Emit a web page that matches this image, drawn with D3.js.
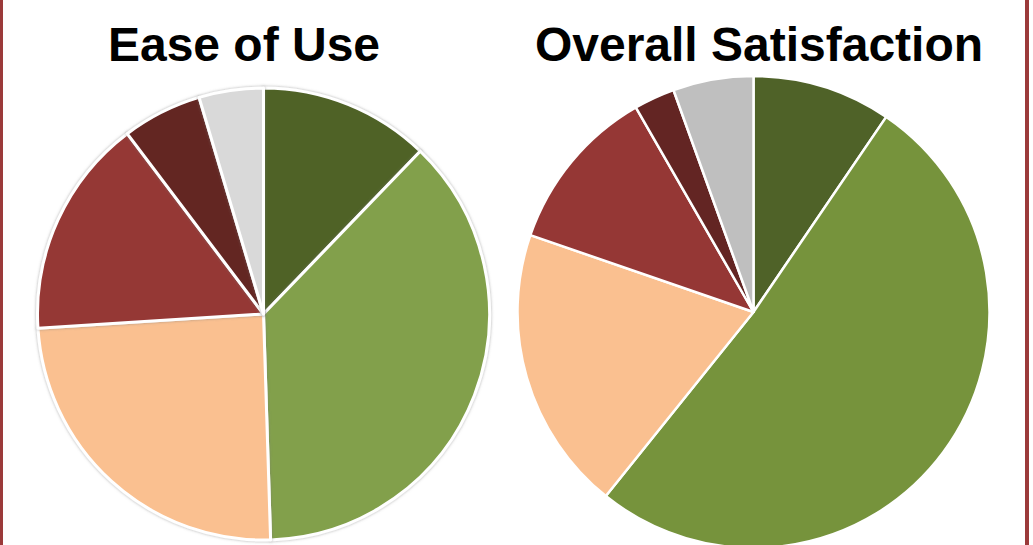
<!DOCTYPE html>
<html>
<head>
<meta charset="utf-8">
<script src="https://cdn.jsdelivr.net/npm/d3@7/dist/d3.min.js"></script>
<style>
  html,body{margin:0;padding:0;background:#fff;overflow:hidden}
  svg{display:block}
  .title{font-family:"Liberation Sans",Arial,sans-serif;font-weight:bold;font-size:48px;fill:#000}
</style>
</head>
<body>
<svg class="pies" width="1033" height="545"></svg>
<script>
// slice order goes clockwise from 12 o'clock
const categories = ['Very satisfied','Satisfied','Neutral','Dissatisfied','Very dissatisfied','No answer']
const easeOfUse = [12.2, 37.3, 24.5, 15.7, 5.7, 4.6]
const overallSatisfaction = [9.5, 51.2, 19.5, 11.4, 2.8, 5.5]
const titles = ['Ease of Use','Overall Satisfaction']

const easeColors = ['#4f6228','#82a04b','#fac090','#953735','#632523','#d9d9d9']
const overallColors = ['#4f6228','#76933c','#fac090','#953735','#632523','#bfbfbf']

const svg = d3.select('svg.pies')

// red side rules
svg.append('rect').attr('x',0).attr('y',0).attr('width',3).attr('height',545).attr('fill','#9b3a3a')
svg.append('rect').attr('x',1025).attr('y',0).attr('width',4).attr('height',545).attr('fill','#9b3a3a')

const defs = svg.append('defs')
const shadow = defs.append('filter').attr('id','soft').attr('x','-10%').attr('y','-10%').attr('width','120%').attr('height','120%')
shadow.append('feDropShadow').attr('dx',0).attr('dy',0).attr('stdDeviation',1.4)
      .attr('flood-color','#777').attr('flood-opacity',0.6)

const pie = d3.pie().sort(null).value(d=>d)

function drawPie(values,colors,cx,cy,r,strokeW,filter){
  const arc = d3.arc().innerRadius(0).outerRadius(r)
  const g = svg.append('g').attr('transform',`translate(${cx},${cy})`)
  const paths = g.selectAll('path')
    .data(pie(values))
    .join('path')
    .attr('d',arc)
    .attr('fill',(d,i)=>colors[i])
    .attr('stroke','#fff')
    .attr('stroke-width',strokeW)
    .attr('stroke-linejoin','round')
  if(filter) paths.attr('filter',`url(#${filter})`)
  return g
}

drawPie(easeOfUse,easeColors,263.5,314,226,3,'soft')
drawPie(overallSatisfaction,overallColors,753.5,312,236,2.5,null)

svg.append('text').attr('class','title').attr('x',244).attr('y',61).attr('text-anchor','middle').text(titles[0])
svg.append('text').attr('class','title').attr('x',759).attr('y',61).attr('text-anchor','middle').text(titles[1])
</script>
</body>
</html>
